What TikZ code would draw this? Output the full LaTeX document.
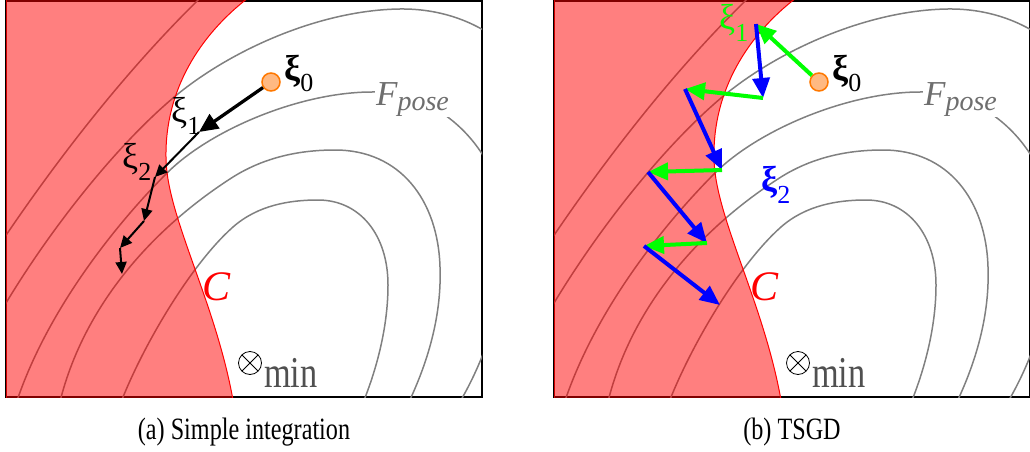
\documentclass[tikz,border=0pt]{standalone}
\usepackage{amsmath}
\usepackage{fontspec}
\setmainfont{Liberation Serif}
\newfontfamily\narrowfont{Liberation Serif}[FakeStretch=0.78]
\usetikzlibrary{arrows.meta}
\definecolor{orfill}{RGB}{255,185,130}
\definecolor{ordraw}{RGB}{255,120,0}
\definecolor{stgreen}{RGB}{0,255,0}
\definecolor{stblue}{RGB}{0,0,255}
\definecolor{lvlgray}{RGB}{128,128,128}
\definecolor{fgray}{RGB}{110,110,110}
\definecolor{mgray}{RGB}{80,80,80}
\newcommand{\lowsub}[1]{\raisebox{-12pt}{\fontsize{26}{28}\selectfont #1}}
\tikzset{
  panelbox/.style={draw=black, line width=2.5pt},
  lvl/.style={draw=lvlgray, line width=1.5pt},
  cset/.style={fill=red, fill opacity=0.5, draw=red, draw opacity=1, line width=1pt},
  initpt/.style={circle, fill=orfill, draw=ordraw, line width=1.5pt, minimum size=18pt, inner sep=0pt},
  simpbig/.style={line width=3.3pt, -{Triangle[length=19pt, width=17pt]}},
  simp/.style={line width=2pt, -{Triangle[length=12pt, width=11pt]}},
  gstep/.style={draw=stgreen, line width=4pt, -{Triangle[length=20pt, width=17pt]}, color=stgreen},
  bstep/.style={draw=stblue, line width=4pt, -{Triangle[length=20pt, width=17pt]}, color=stblue},
  xilbl/.style={font=\fontsize{36}{40}\selectfont, anchor=base west, inner sep=0pt},
  fplbl/.style={font=\fontsize{35}{38}\selectfont\itshape, text=fgray, fill=white, anchor=base west, inner sep=1pt},
  clbl/.style={font=\fontsize{42}{46}\selectfont\itshape, text=red, anchor=base west, inner sep=0pt},
  minlbl/.style={font=\narrowfont\fontsize{44}{48}\selectfont, text=mgray, anchor=base west, inner sep=0pt},
  omin/.style={circle, draw, line width=0.8pt, minimum size=23pt, inner sep=0pt,
    path picture={\draw[line width=0.8pt] (path picture bounding box.north west) -- (path picture bounding box.south east)
      (path picture bounding box.north east) -- (path picture bounding box.south west);}},
  caplbl/.style={font=\narrowfont\fontsize{31}{36}\selectfont, anchor=base, inner sep=0pt}
}
% one panel: frame, level sets, constraint set and their labels
\newcommand{\drawpanel}{
  \draw[panelbox] (6,1) rectangle (482,397);
  \begin{scope}
    \clip (6,1) rectangle (482,397);
    % level sets of F_pose
    \draw[lvl] (118,410) .. controls (140,350) and (190,265) .. (233,227)
      .. controls (258,205) and (290,200) .. (318,200)
      .. controls (360,200) and (388,235) .. (388,285)
      .. controls (388,330) and (375,375) .. (360,410);
    \draw[lvl] (58,410) .. controls (80,310) and (150,230) .. (233,177)
      .. controls (265,157) and (300,150) .. (335,150)
      .. controls (400,150) and (438,200) .. (440,267)
      .. controls (442,320) and (425,370) .. (405,410);
    \draw[lvl] (14,410) .. controls (45,310) and (120,220) .. (167,173)
      .. controls (210,130) and (300,92) .. (372,92)
      .. controls (445,90) and (510,160) .. (505,240)
      .. controls (505,310) and (480,370) .. (455,410);
    \draw[lvl] (-20,350) .. controls (20,270) and (100,160) .. (173,98)
      .. controls (230,50) and (320,10) .. (400,9)
      .. controls (480,8) and (560,60) .. (580,200);
    \draw[lvl] (-30,290) .. controls (40,180) and (130,60) .. (230,-30);
    % constraint set
    \path[cset] (6,-2) -- (248,-2) .. controls (200,35) and (165,90) .. (166,157)
      .. controls (166,215) and (215,300) .. (233,400) -- (6,400) -- cycle;
  \end{scope}
  \node[fplbl] (fpose) at (375,105) {F\raisebox{-5pt}{\fontsize{28}{30}\selectfont pose}};
  \node[clbl] (cname) at (202,300) {C};
  \node[omin] (omin) at (250,363) {};
  \node[minlbl] (mintxt) at (264,387) {min};
}

\begin{document}
\begin{tikzpicture}[x=1pt, y=-1pt]
  \useasboundingbox (0,0) rectangle (1030,452);

  % (a) simple integration
  \begin{scope}[name prefix=a-]
    \drawpanel
    \node[initpt] (x0) at (271,82) {};
    \coordinate (p1) at (199,132);
    \coordinate (p2) at (155,177);
    \coordinate (p3) at (144,221);
    \coordinate (p4) at (120,248);
    \coordinate (p5) at (122,274);
    \draw[simpbig] (x0) -- (p1);
    \draw[simp] (p1) -- (p2);
    \draw[simp] (p2) -- (p3);
    \draw[simp] (p3) -- (p4);
    \draw[simp] (p4) -- (p5);
    \node[xilbl] (l0) at (284,80) {\textbf{ξ}\lowsub{0}};
    \node[xilbl] (l1) at (171,122) {ξ\lowsub{1}};
    \node[xilbl] (l2) at (122,168) {ξ\lowsub{2}};
  \end{scope}

  % (b) TSGD
  \begin{scope}[xshift=548pt, name prefix=b-]
    \drawpanel
    \node[initpt] (x0) at (271,82) {};
    \coordinate (t1) at (208,24);
    \coordinate (t2) at (215,98);
    \coordinate (t3) at (137,89);
    \coordinate (t4) at (174,170);
    \coordinate (t5) at (100,172);
    \coordinate (t6) at (159,243);
    \coordinate (t7) at (96,246);
    \coordinate (t8) at (172,305);
    \draw[gstep] (x0) -- (t1);
    \draw[bstep] (t1) -- (t2);
    \draw[gstep] (t2) -- (t3);
    \draw[bstep] (t3) -- (t4);
    \draw[gstep] (t4) -- (t5);
    \draw[bstep] (t5) -- (t6);
    \draw[gstep] (t6) -- (t7);
    \draw[bstep] (t7) -- (t8);
    \node[xilbl] (l0) at (284,80) {\textbf{ξ}\lowsub{0}};
    \node[xilbl, text=stgreen] (l1) at (171,30) {ξ\lowsub{1}};
    \node[xilbl, text=stblue] (l2) at (213,191) {\textbf{ξ}\lowsub{2}};
  \end{scope}

  % captions
  \node[caplbl] (capa) at (244,439) {(a) Simple integration};
  \node[caplbl] (capb) at (792,439) {(b) TSGD};
\end{tikzpicture}
\end{document}
